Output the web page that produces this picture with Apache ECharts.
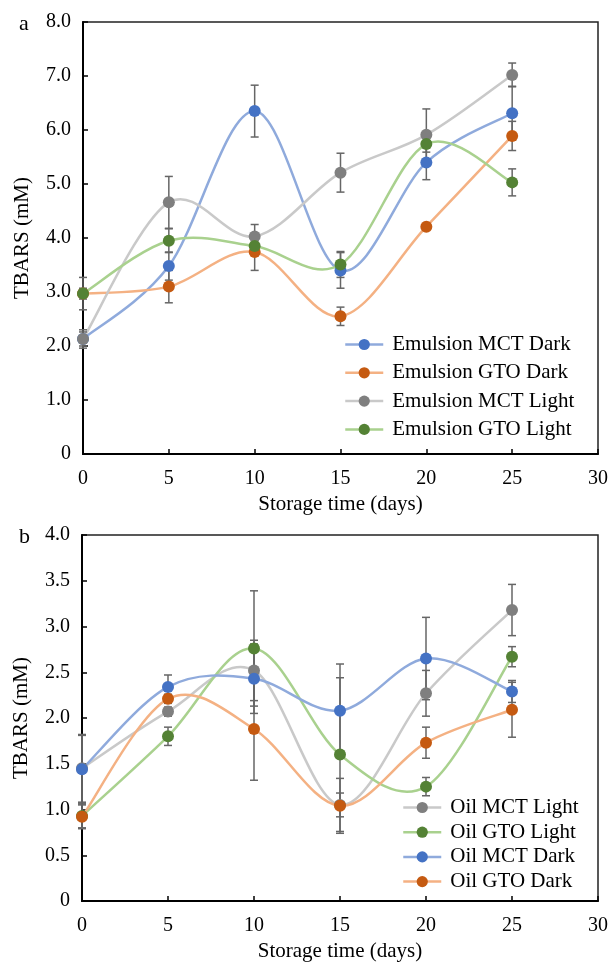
<!DOCTYPE html>
<html>
<head>
<meta charset="utf-8">
<script src="https://cdn.jsdelivr.net/npm/echarts@6/dist/echarts.min.js"></script>
<style>
  html, body { margin: 0; padding: 0; background: #fff; }
  #main { width: 611px; height: 963px; }
</style>
</head>
<body>
<div id="main"></div>
<script>
// storage days (shared by both panels)
const days = [0, 5, 10, 15, 20, 25];

// panel a – emulsions
const emuMctDark = [2.13, 3.48, 6.35, 3.40, 5.40, 6.31];
const emuMctDarkErr = [0.13, 0.26, 0.48, 0.33, 0.32, 0.50];
const emuGtoDark = [2.97, 3.10, 3.74, 2.55, 4.21, 5.89];
const emuGtoDarkErr = [0.10, 0.30, 0.34, 0.17, 0.05, 0.27];
const emuMctLight = [2.13, 4.66, 4.03, 5.21, 5.91, 7.02];
const emuMctLightErr = [0.17, 0.48, 0.22, 0.36, 0.48, 0.22];
const emuGtoLight = [2.97, 3.95, 3.85, 3.51, 5.74, 5.03];
const emuGtoLightErr = [0.30, 0.22, 0.10, 0.24, 0.15, 0.25];

// panel b – oils
const oilMctLight = [1.45, 2.07, 2.52, 1.05, 2.27, 3.18];
const oilMctLightErr = [0.37, 0.05, 0.33, 0.13, 0.25, 0.28];
const oilGtoLight = [0.93, 1.80, 2.76, 1.60, 1.25, 2.67];
const oilGtoLightErr = [0.13, 0.10, 0.63, 0.84, 0.10, 0.11];
const oilMctDark = [1.44, 2.34, 2.43, 2.08, 2.65, 2.29];
const oilMctDarkErr = [0.37, 0.13, 0.38, 0.51, 0.45, 0.12];
const oilGtoDark = [0.92, 2.21, 1.88, 1.04, 1.73, 2.09];
const oilGtoDarkErr = [0.13, 0.05, 0.56, 0.30, 0.17, 0.30];

const FONT = "'Liberation Serif', 'Times New Roman', serif";
const colors = {
  blue: { line: '#8FAADC', dot: '#4472C4' },
  orange: { line: '#F4B183', dot: '#C55A11' },
  gray: { line: '#C9C9C9', dot: '#7F7F7F' },
  green: { line: '#A9D18E', dot: '#548235' },
};
const LINE_W = 2.5;

const myChart = echarts.init(document.getElementById('main'), null, { renderer: 'canvas' });

function pairs(vals) {
  return days.map((d, i) => [d, vals[i]]);
}

// markers (line itself hidden, the curve is drawn by curveSeries)
function dotSeries(name, vals, c, gi) {
  return {
    name: name,
    type: 'line',
    xAxisIndex: gi,
    yAxisIndex: gi,
    data: pairs(vals),
    symbol: 'circle',
    symbolSize: 12,
    z: 4,
    lineStyle: { color: c.line, width: LINE_W, opacity: 0 },
    itemStyle: { color: c.dot },
  };
}

// excel-like smoothed curve (catmull-rom through the points)
function curveSeries(vals, c, gi) {
  return {
    type: 'custom',
    xAxisIndex: gi,
    yAxisIndex: gi,
    z: 2,
    silent: true,
    data: pairs(vals),
    renderItem(params, api) {
      const i = params.dataIndex;
      if (i >= days.length - 1) return null;
      const p = (j) => api.coord([days[j], vals[j]]);
      const p1 = p(i), p2 = p(i + 1);
      const p0 = i > 0 ? p(i - 1) : p1;
      const p3 = i + 2 < days.length ? p(i + 2) : p2;
      const k = 1 / 6;
      return {
        type: 'bezierCurve',
        shape: {
          x1: p1[0], y1: p1[1], x2: p2[0], y2: p2[1],
          cpx1: p1[0] + (p2[0] - p0[0]) * k, cpy1: p1[1] + (p2[1] - p0[1]) * k,
          cpx2: p2[0] - (p3[0] - p1[0]) * k, cpy2: p2[1] - (p3[1] - p1[1]) * k,
        },
        style: { stroke: c.line, lineWidth: LINE_W, fill: null },
      };
    },
  };
}

function errSeries(list, gi) {
  // list = [[vals, errs], ...]
  const data = [];
  list.forEach(([v, e]) => {
    days.forEach((d, i) => data.push([d, v[i] - e[i], v[i] + e[i]]));
  });
  return {
    type: 'custom',
    xAxisIndex: gi,
    yAxisIndex: gi,
    z: 3,
    silent: true,
    data: data,
    renderItem(params, api) {
      const x = api.value(0);
      const top = api.coord([x, api.value(2)]);
      const bot = api.coord([x, api.value(1)]);
      const w = 4;
      const st = { stroke: '#666', lineWidth: 1.5 };
      return {
        type: 'group',
        children: [
          { type: 'line', shape: { x1: top[0], y1: top[1], x2: bot[0], y2: bot[1] }, style: st },
          { type: 'line', shape: { x1: top[0] - w, y1: top[1], x2: top[0] + w, y2: top[1] }, style: st },
          { type: 'line', shape: { x1: bot[0] - w, y1: bot[1], x2: bot[0] + w, y2: bot[1] }, style: st },
        ],
      };
    },
  };
}

function xAx(gi) {
  return {
    gridIndex: gi,
    type: 'value',
    min: 0,
    max: 30,
    interval: 5,
    name: 'Storage time (days)',
    nameLocation: 'middle',
    nameGap: 40,
    nameTextStyle: { color: '#000', fontSize: 21, fontFamily: FONT },
    axisLine: { lineStyle: { color: '#000', width: 2 } },
    axisTick: { inside: true, length: 5, lineStyle: { color: '#000', width: 1.5 } },
    axisLabel: { color: '#000', fontSize: 20, fontFamily: FONT, margin: 15 },
    splitLine: { show: false },
  };
}

function yAx(gi, max, step) {
  return {
    gridIndex: gi,
    type: 'value',
    min: 0,
    max: max,
    interval: step,
    name: 'TBARS (mM)',
    nameLocation: 'middle',
    nameGap: 50,
    nameTextStyle: { color: '#000', fontSize: 21, fontFamily: FONT },
    axisLine: { show: true, lineStyle: { color: '#000', width: 2 } },
    axisTick: { show: true, inside: true, length: 5, lineStyle: { color: '#000', width: 1.5 } },
    axisLabel: {
      color: '#000', fontSize: 20, fontFamily: FONT, margin: 12,
      formatter: (v) => (v === 0 ? '0' : v.toFixed(1)),
    },
    splitLine: { show: false },
  };
}

function legendItem(name, c) {
  return { name: name, lineStyle: { color: c.line, width: LINE_W, opacity: 1 } };
}

const legendBase = {
  orient: 'vertical',
  itemWidth: 38,
  itemHeight: 14,
  textStyle: { color: '#000', fontSize: 21, fontFamily: FONT, lineHeight: 21, padding: [0, 0, 0, 4] },
};

const option = {
  backgroundColor: '#fff',
  animation: false,
  title: [
    { text: 'a', left: 14, top: 8, textStyle: { fontSize: 22, fontWeight: 'normal', color: '#000', fontFamily: FONT } },
    { text: 'b', left: 14, top: 521, textStyle: { fontSize: 22, fontWeight: 'normal', color: '#000', fontFamily: FONT } },
  ],
  grid: [
    { left: 83, right: 12, top: 22, height: 432, show: true, borderColor: '#222', borderWidth: 1.5 },
    { left: 82, right: 12, top: 535, height: 367, show: true, borderColor: '#222', borderWidth: 1.5 },
  ],
  legend: [
    Object.assign({}, legendBase, {
      left: 339, top: 329, itemGap: 7.3,
      data: [
        legendItem('Emulsion MCT Dark', colors.blue),
        legendItem('Emulsion GTO Dark', colors.orange),
        legendItem('Emulsion MCT Light', colors.gray),
        legendItem('Emulsion GTO Light', colors.green),
      ],
    }),
    Object.assign({}, legendBase, {
      left: 397, top: 792, itemGap: 3.7,
      data: [
        legendItem('Oil MCT Light', colors.gray),
        legendItem('Oil GTO Light', colors.green),
        legendItem('Oil MCT Dark', colors.blue),
        legendItem('Oil GTO Dark', colors.orange),
      ],
    }),
  ],
  xAxis: [xAx(0), xAx(1)],
  yAxis: [yAx(0, 8, 1), yAx(1, 4, 0.5)],
  series: [
    curveSeries(emuMctDark, colors.blue, 0),
    curveSeries(emuGtoDark, colors.orange, 0),
    curveSeries(emuMctLight, colors.gray, 0),
    curveSeries(emuGtoLight, colors.green, 0),
    errSeries([[emuMctDark, emuMctDarkErr], [emuGtoDark, emuGtoDarkErr], [emuMctLight, emuMctLightErr], [emuGtoLight, emuGtoLightErr]], 0),
    dotSeries('Emulsion MCT Dark', emuMctDark, colors.blue, 0),
    dotSeries('Emulsion GTO Dark', emuGtoDark, colors.orange, 0),
    dotSeries('Emulsion MCT Light', emuMctLight, colors.gray, 0),
    dotSeries('Emulsion GTO Light', emuGtoLight, colors.green, 0),

    curveSeries(oilMctLight, colors.gray, 1),
    curveSeries(oilGtoLight, colors.green, 1),
    curveSeries(oilMctDark, colors.blue, 1),
    curveSeries(oilGtoDark, colors.orange, 1),
    errSeries([[oilMctLight, oilMctLightErr], [oilGtoLight, oilGtoLightErr], [oilMctDark, oilMctDarkErr], [oilGtoDark, oilGtoDarkErr]], 1),
    dotSeries('Oil MCT Light', oilMctLight, colors.gray, 1),
    dotSeries('Oil GTO Light', oilGtoLight, colors.green, 1),
    dotSeries('Oil MCT Dark', oilMctDark, colors.blue, 1),
    dotSeries('Oil GTO Dark', oilGtoDark, colors.orange, 1),
  ],
};

myChart.setOption(option);
</script>
</body>
</html>
